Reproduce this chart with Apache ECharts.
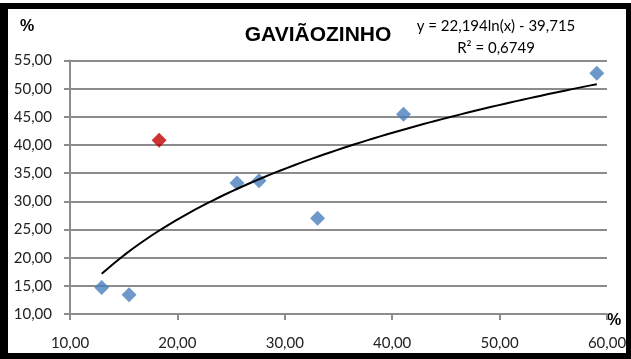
<!DOCTYPE html>
<html>
<head>
<meta charset="utf-8">
<script src="https://cdn.jsdelivr.net/npm/echarts@6/dist/echarts.min.js"></script>
<style>
  html, body { margin: 0; padding: 0; background: #fff; }
  #chart { width: 631px; height: 359px; }
</style>
</head>
<body>
<div id="chart"></div>
<script>
// Sample points (x %, y %)
const pointsX = [12.95, 15.5, 25.55, 27.6, 33.05, 41.05, 59.05];
const pointsY = [14.7, 13.4, 33.25, 33.65, 27.0, 45.45, 52.75];
// Highlighted point
const highlightX = [18.3];
const highlightY = [40.85];

// Logarithmic trend: y = a*ln(x) + b
const trendA = 22.194;
const trendB = -39.715;
const titleText = 'GAVIÃOZINHO';
const equationText = 'y = 22,194ln(x) - 39,715';
const r2Text = 'R² = 0,6749';

const fmt = v => v.toFixed(2).replace('.', ',');

const allX = pointsX.concat(highlightX);
const xMin = Math.min(...allX), xMax = Math.max(...allX);
const trend = [];
const steps = 80;
for (let i = 0; i <= steps; i++) {
  const x = xMin + (xMax - xMin) * i / steps;
  trend.push([x, trendA * Math.log(x) + trendB]);
}

const chart = echarts.init(document.getElementById('chart'), null, { renderer: 'canvas' });
const gridColor = '#8c8c8c';
const labelFont = { fontFamily: 'Lato', fontSize: 15, color: '#222' };

chart.setOption({
  animation: false,
  backgroundColor: '#fff',
  grid: { left: 70, right: 24, top: 60.5, bottom: 45, containLabel: false },
  title: {
    text: titleText,
    left: 313, top: 20, textAlign: 'center',
    textStyle: { fontFamily: 'Liberation Sans', fontWeight: 'bold', fontSize: 21, color: '#000' }
  },
  xAxis: {
    type: 'value', min: 10, max: 60, interval: 10,
    axisLine: { show: true, lineStyle: { color: gridColor, width: 2 } },
    axisTick: { show: true, length: 6, lineStyle: { color: gridColor, width: 2 } },
    axisLabel: Object.assign({ formatter: fmt, margin: 22 }, labelFont),
    splitLine: { show: false }
  },
  yAxis: {
    type: 'value', min: 10, max: 55, interval: 5,
    axisLine: { show: true, onZero: false, lineStyle: { color: gridColor, width: 2 } },
    axisTick: { show: true, length: 6, lineStyle: { color: gridColor, width: 2 } },
    axisLabel: Object.assign({ formatter: fmt, margin: 18 }, labelFont),
    splitLine: { show: true, lineStyle: { color: gridColor, width: 2 } }
  },
  graphic: [
    { type: 'text', x: 20, y: 19,
      style: { text: '%', font: 'bold 16px "Liberation Sans"', fill: '#000' } },
    { type: 'text', x: 607, y: 313,
      style: { text: '%', font: 'bold 16px "Liberation Sans"', fill: '#000' } },
    { type: 'text', x: 496, y: 15,
      style: { text: equationText + '\n' + r2Text, font: '15px Lato', fill: '#000',
               align: 'center', lineHeight: 22 } },
    // frame
    { type: 'rect', shape: { x: 0, y: 3, width: 8, height: 356 }, style: { fill: '#000' } },
    { type: 'rect', shape: { x: 0, y: 3, width: 631, height: 6 }, style: { fill: '#000' } },
    { type: 'rect', shape: { x: 626, y: 3, width: 5, height: 356 }, style: { fill: '#000' } },
    { type: 'rect', shape: { x: 0, y: 353, width: 631, height: 6 }, style: { fill: '#000' } }
  ],
  series: [
    {
      type: 'line', data: trend, showSymbol: false, smooth: false,
      lineStyle: { color: '#000', width: 2 }, z: 3
    },
    {
      type: 'scatter', symbol: 'diamond', symbolSize: 15,
      data: pointsX.map((x, i) => [x, pointsY[i]]),
      itemStyle: { color: '#4a7ebb' }, z: 2
    },
    {
      type: 'scatter', symbol: 'diamond', symbolSize: 15,
      data: highlightX.map((x, i) => [x, highlightY[i]]),
      itemStyle: { color: '#c00000' }, z: 2
    }
  ]
});
</script>
</body>
</html>
